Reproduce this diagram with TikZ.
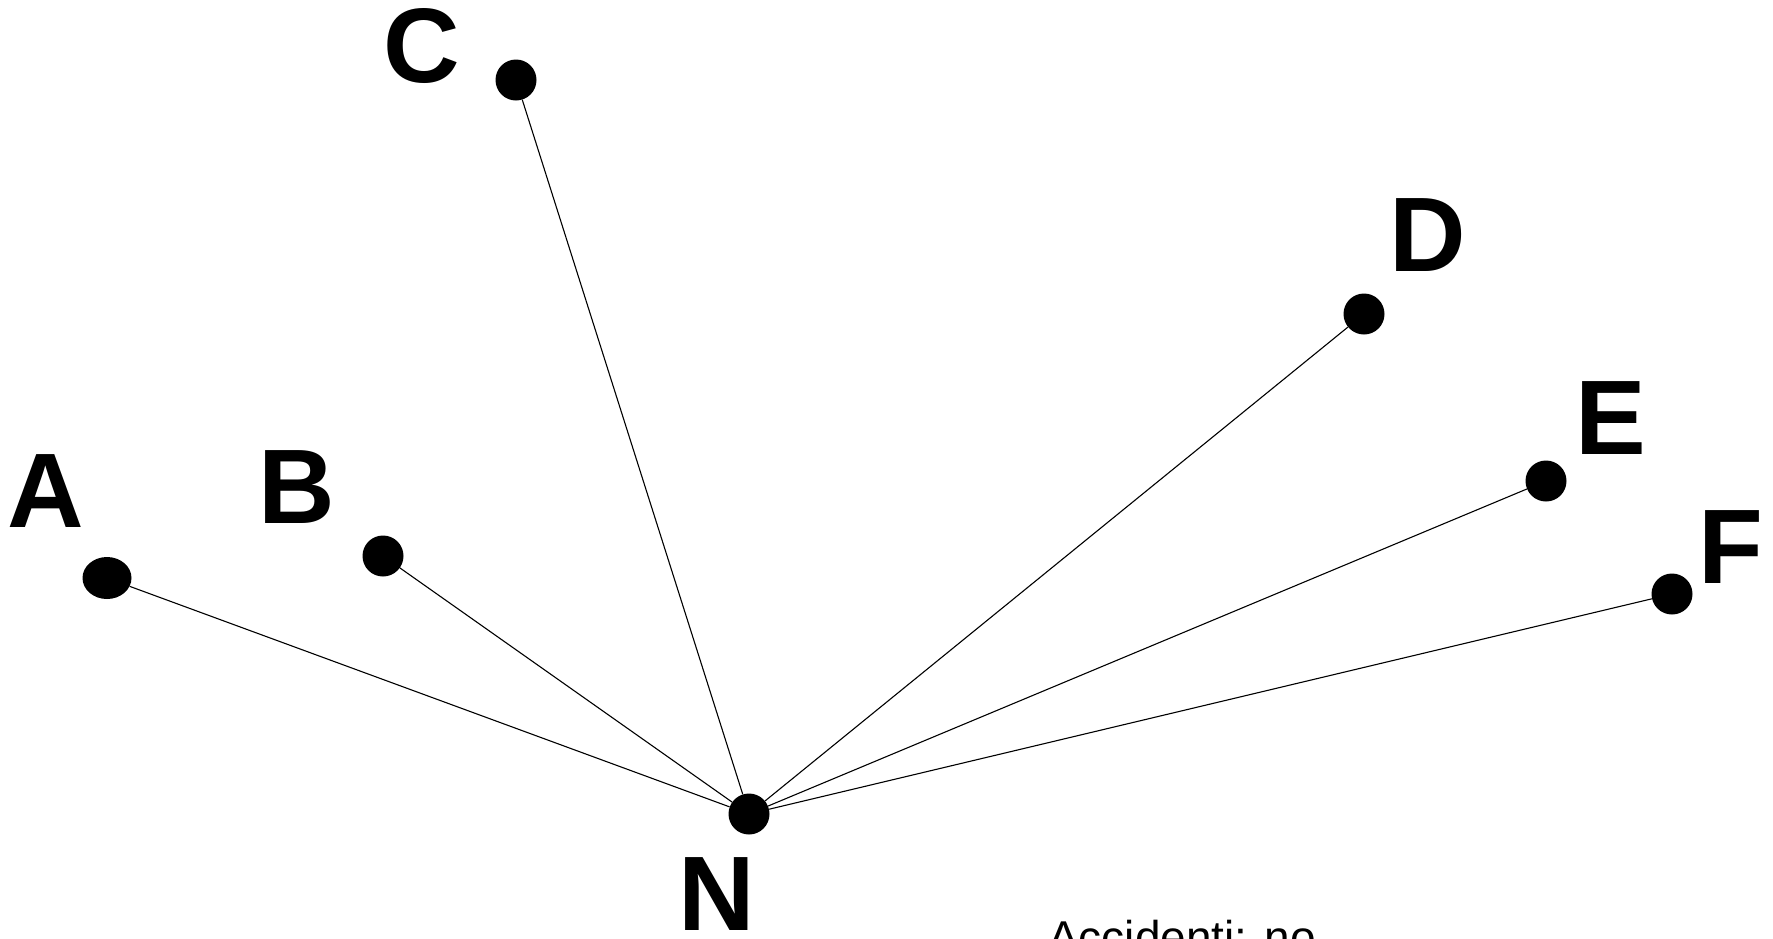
\documentclass[tikz,border=0pt]{standalone}
\usepackage{fontspec}
\setmainfont{Liberation Sans}
\usetikzlibrary{shapes.geometric}
\begin{document}
\begin{tikzpicture}[x=1pt,y=-1pt,
  dot/.style={circle,fill=black,inner sep=0pt,minimum size=41pt},
  tag/.style={inner sep=0pt,anchor=base,font=\fontsize{106}{106}\selectfont\bfseries},
  link/.style={draw=black,line width=1.1pt}]
  \useasboundingbox[fill=white] (0,0) rectangle (1773,938);

  % points
  \node[dot] (n) at (749,814) {};
  \node[dot,ellipse,minimum width=49pt,minimum height=42pt] (a) at (107,578) {};
  \node[dot] (b) at (383,556) {};
  \node[dot] (c) at (516,80) {};
  \node[dot] (d) at (1364,314) {};
  \node[dot] (e) at (1546,481) {};
  \node[dot] (f) at (1672,594) {};

  % letters
  \node[tag] (la) at (46,527) {A};
  \node[tag] (lb) at (297,523) {B};
  \node[tag] (lc) at (422,82) {C};
  \node[tag] (ld) at (1428,271) {D};
  \node[tag] (le) at (1611,454) {E};
  \node[tag] (lf) at (1731,583) {F};
  \node[tag] (ln) at (717,930) {N};

  % connections
  \foreach \p in {a,b,c,d,e,f} \draw[link] (n) -- (\p);

  % caption
  \node[inner sep=0pt,anchor=base west,font=\fontsize{46}{46}\selectfont] (cap) at (1048,953) {Accidenti: no};
\end{tikzpicture}
\end{document}
